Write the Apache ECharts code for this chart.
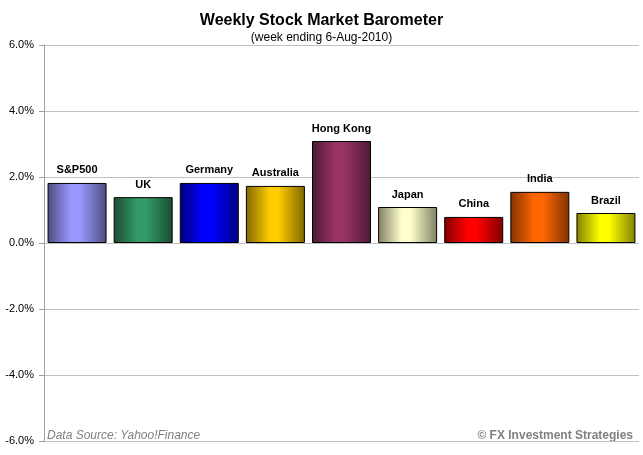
<!DOCTYPE html>
<html lang="en">
<head>
    <meta charset="UTF-8">
    <title>Weekly Stock Market Barometer</title>
    <script src="https://cdn.jsdelivr.net/npm/echarts@6/dist/echarts.min.js"></script>
    <style>
        *{ padding: 0; margin: 0; }
        #chart{ width: 643px; height: 455px; background: #ffffff; }
    </style>
</head>
<body>
<div id="chart"></div>
<script>
    var markets = ['S&P500', 'UK', 'Germany', 'Australia', 'Hong Kong', 'Japan', 'China', 'India', 'Brazil'];
    var weeklyChange = [1.82, 1.39, 1.82, 1.73, 3.09, 1.09, 0.79, 1.55, 0.91];
    // middle colour / edge colour of each bar
    var lightColors = ['#9999FF', '#339966', '#0000FF', '#FFCC00', '#993366', '#FFFFCC', '#FF0000', '#FF6600', '#FFFF00'];
    var darkColors = ['#4d4d80', '#1a4d33', '#000080', '#806600', '#4d1a33', '#808066', '#800000', '#803300', '#808000'];

    var font = 'Liberation Sans, Arial, sans-serif';

    var barData = markets.map(function (name, i) {
        return {
            value: weeklyChange[i],
            itemStyle: {
                color: new echarts.graphic.LinearGradient(0, 0, 1, 0, [
                    {offset: 0, color: darkColors[i]},
                    {offset: 0.4, color: lightColors[i]},
                    {offset: 0.55, color: lightColors[i]},
                    {offset: 1, color: darkColors[i]}
                ])
            }
        };
    });

    var chart = echarts.init(document.getElementById('chart'));
    chart.setOption({
        backgroundColor: '#ffffff',
        animation: false,
        title: {
            text: 'Weekly Stock Market Barometer',
            subtext: '(week ending 6-Aug-2010)',
            left: 'center',
            top: 8,
            itemGap: 3,
            textStyle: {fontFamily: font, fontSize: 16, fontWeight: 'bold', color: '#000'},
            subtextStyle: {fontFamily: font, fontSize: 12, color: '#000'}
        },
        grid: {left: 44, right: 4, top: 45, bottom: 14},
        xAxis: {
            type: 'category',
            data: markets,
            axisLine: {show: false},
            axisTick: {show: false},
            axisLabel: {show: false}
        },
        yAxis: {
            type: 'value',
            min: -6,
            max: 6,
            interval: 2,
            axisLine: {show: true, lineStyle: {color: '#a0a0a0'}},
            axisTick: {show: true, length: 5, lineStyle: {color: '#a0a0a0'}},
            splitLine: {lineStyle: {color: '#c0c0c0'}},
            axisLabel: {
                fontFamily: font, fontSize: 11, color: '#000', margin: 10,
                formatter: function (v) { return v.toFixed(1) + '%'; }
            }
        },
        series: [{
            type: 'bar',
            data: barData,
            barWidth: 59,
            itemStyle: {borderColor: '#000', borderWidth: 1},
            label: {
                show: true,
                position: 'top',
                distance: 7,
                fontFamily: font,
                fontSize: 11,
                fontWeight: 'bold',
                color: '#000',
                formatter: function (p) { return p.name; }
            }
        }],
        graphic: [
            {
                type: 'text', left: 47, top: 430,
                style: {text: 'Data Source: Yahoo!Finance', font: 'italic 12px Liberation Sans, Arial, sans-serif', fill: '#808080'}
            },
            {
                type: 'text', right: 10, top: 430,
                style: {text: '\u00a9 FX Investment Strategies', font: 'bold 12px Liberation Sans, Arial, sans-serif', fill: '#808080'}
            }
        ]
    });
</script>
</body>
</html>
